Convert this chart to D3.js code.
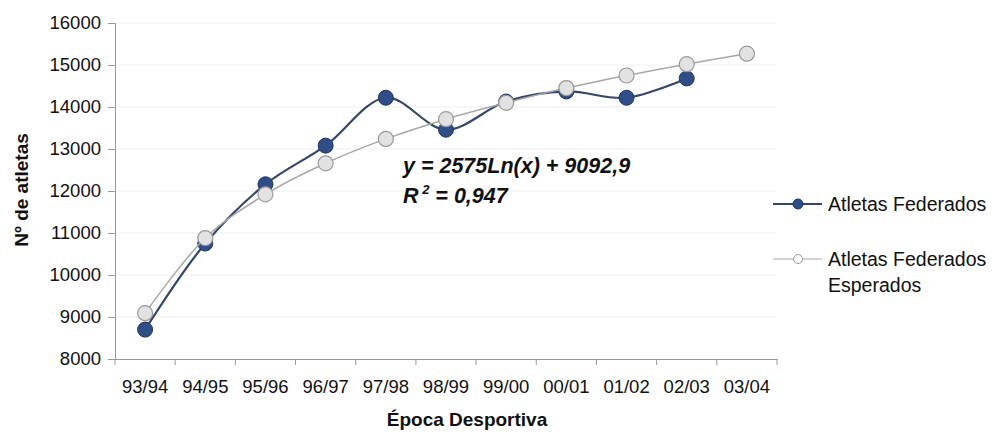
<!DOCTYPE html>
<html>
<head>
<meta charset="utf-8">
<script src="https://cdn.jsdelivr.net/npm/d3@7"></script>
<style>
body { margin: 0; background: #fff; }
text { font-family: Arial, "Liberation Sans", sans-serif; fill: #111; }
</style>
</head>
<body>
<svg id="chart" width="993" height="434"></svg>
<script>
// data
var epocas = ["93/94", "94/95", "95/96", "96/97", "97/98", "98/99", "99/00", "00/01", "01/02", "02/03", "03/04"];
var federados = [8700, 10750, 12160, 13080, 14220, 13460, 14130, 14370, 14220, 14680, null];
var esperados = [9090, 10880, 11920, 12660, 13240, 13710, 14100, 14450, 14750, 15020, 15270];
var yTicks = [8000, 9000, 10000, 11000, 12000, 13000, 14000, 15000, 16000];

var svg = d3.select("#chart");

var x = d3.scaleBand().domain(epocas).range([115, 777]);
var y = d3.scaleLinear().domain([8000, 16000]).range([359, 23]);
var cx = function (d, i) { return x(epocas[i]) + x.bandwidth() / 2; };

// faint gridlines
svg.append("g").selectAll("line")
    .data(yTicks.slice(1))
    .enter().append("line")
    .attr("x1", 115).attr("x2", 777)
    .attr("y1", function (d) { return y(d); })
    .attr("y2", function (d) { return y(d); })
    .style("stroke", "#f0f0f0");

// y axis
var yAxis = svg.append("g")
    .attr("transform", "translate(115,0)")
    .call(d3.axisLeft(y).tickValues(yTicks).tickSize(7).tickPadding(7).tickFormat(d3.format("d")));
yAxis.select(".domain").style("stroke", "#999");
yAxis.selectAll(".tick line").style("stroke", "#999");
yAxis.selectAll("text").style("font-size", "18.5px").style("fill", "#111");

// x axis
var xAxis = svg.append("g")
    .attr("transform", "translate(0,359)")
    .call(d3.axisBottom(x).tickSize(0).tickPadding(21));
xAxis.select(".domain").style("stroke", "#999");
xAxis.selectAll("text").style("font-size", "18.5px").style("fill", "#111");
xAxis.selectAll(".sep")
    .data(epocas.map(function (d) { return x(d); }).concat([777]))
    .enter().append("line")
    .attr("class", "sep")
    .attr("x1", function (d) { return d; }).attr("x2", function (d) { return d; })
    .attr("y1", 0).attr("y2", 6)
    .style("stroke", "#999");

// axis titles
svg.append("text")
    .attr("x", 467).attr("y", 426)
    .attr("text-anchor", "middle")
    .style("font-size", "19px").style("font-weight", "bold")
    .text("Época Desportiva");
svg.append("text")
    .attr("transform", "translate(28,190) rotate(-90)")
    .attr("text-anchor", "middle")
    .style("font-size", "19px").style("font-weight", "bold")
    .text("Nº de atletas");

var line = d3.line()
    .defined(function (d) { return d != null; })
    .x(cx)
    .y(function (d) { return y(d); })
    .curve(d3.curveCatmullRom.alpha(0.5));

// Atletas Federados
svg.append("path")
    .datum(federados)
    .attr("d", line)
    .style("fill", "none").style("stroke", "#34466b").style("stroke-width", 2.2);
svg.append("g").selectAll("circle")
    .data(federados)
    .enter().append("circle")
    .attr("cx", cx)
    .attr("cy", function (d) { return d == null ? 0 : y(d); })
    .attr("r", 7.5)
    .style("display", function (d) { return d == null ? "none" : null; })
    .style("fill", "#2f4d86").style("stroke", "#1f3560").style("stroke-width", 1);

// Atletas Federados Esperados
svg.append("path")
    .datum(esperados)
    .attr("d", line)
    .style("fill", "none").style("stroke", "#a8a8a8").style("stroke-width", 1.5);
svg.append("g").selectAll("circle")
    .data(esperados)
    .enter().append("circle")
    .attr("cx", cx)
    .attr("cy", function (d) { return y(d); })
    .attr("r", 7.5)
    .style("fill", "#e2e2e2").style("stroke", "#9a9a9a").style("stroke-width", 1.2);

// trend equation
var eq = svg.append("g").style("font-size", "21.5px").style("font-weight", "bold").style("font-style", "italic");
eq.append("text").attr("x", 403).attr("y", 173).text("y = 2575Ln(x) + 9092,9");
var r2 = eq.append("text").attr("x", 403).attr("y", 203);
r2.append("tspan").text("R");
r2.append("tspan").attr("dy", -9).style("font-size", "13px").text(" 2");
r2.append("tspan").attr("dy", 9).text(" = 0,947");

// legend
var leg = svg.append("g");
leg.append("line").attr("x1", 773).attr("x2", 822).attr("y1", 204).attr("y2", 204)
    .style("stroke", "#34466b").style("stroke-width", 2);
leg.append("circle").attr("cx", 798).attr("cy", 204).attr("r", 5)
    .style("fill", "#2f4d86").style("stroke", "#1f3560");
leg.append("text").attr("x", 828).attr("y", 211).style("font-size", "19.5px").text("Atletas Federados");
leg.append("line").attr("x1", 773).attr("x2", 822).attr("y1", 259).attr("y2", 259)
    .style("stroke", "#a8a8a8").style("stroke-width", 1.2);
leg.append("circle").attr("cx", 798).attr("cy", 259).attr("r", 4.5)
    .style("fill", "#fff").style("stroke", "#999");
leg.append("text").attr("x", 828).attr("y", 266).style("font-size", "19.5px").text("Atletas Federados");
leg.append("text").attr("x", 828).attr("y", 292).style("font-size", "19.5px").text("Esperados");
</script>
</body>
</html>
